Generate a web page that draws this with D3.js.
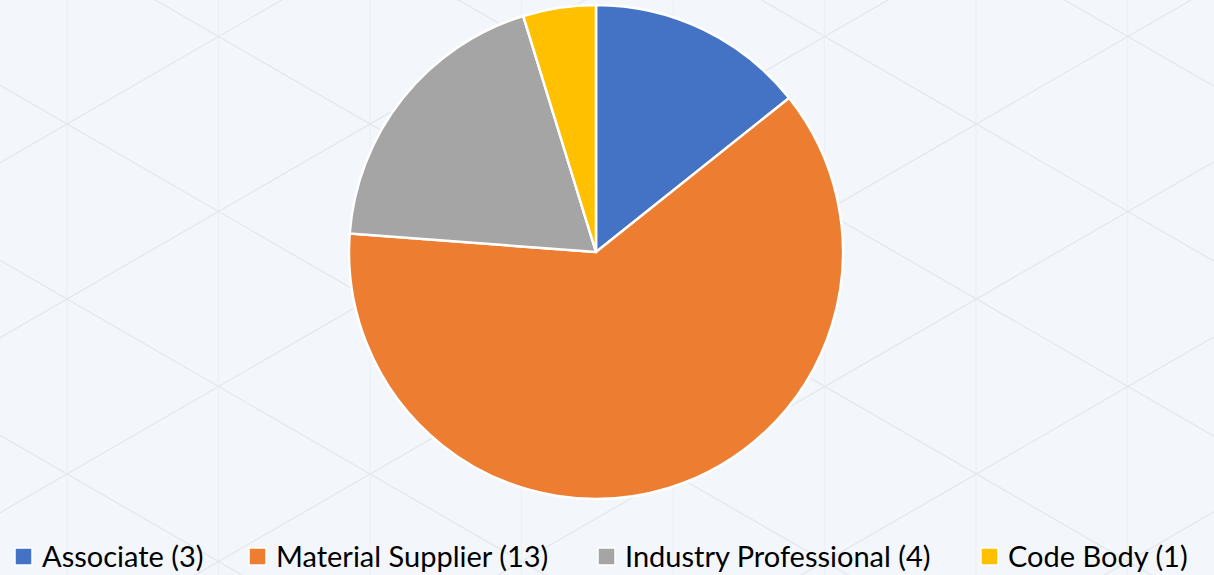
<!DOCTYPE html>
<html>
<head>
<meta charset="utf-8">
<script src="https://cdn.jsdelivr.net/npm/d3@7"></script>
<style>
  html, body { margin: 0; padding: 0; background: #f3f6fa; }
  svg { display: block; }
</style>
</head>
<body>
<svg id="chart" width="1214" height="575"></svg>
<script>
// data
const categories = ["Associate", "Material Supplier", "Industry Professional", "Code Body"];
const counts = [3, 13, 4, 1];
const colors = ["#4472C4", "#ED7D31", "#A5A5A5", "#FFC000"];

const svg = d3.select("#chart");
const width = +svg.attr("width");
const height = +svg.attr("height");

// background with faint triangle lattice
svg.append("rect").attr("width", width).attr("height", height).attr("fill", "#f3f6fa");
const bg = svg.append("g").attr("stroke", "#e4e7eb").attr("stroke-width", 1.2).attr("fill", "none");
const dx = 151.5, x0 = 67;
const slope = Math.tan(Math.PI / 6);
for (let k = -2; k < 10; k++) {
    const x = x0 + k * dx;
    bg.append("line").attr("x1", x).attr("x2", x).attr("y1", 0).attr("y2", height)
        .attr("stroke", "#edf0f4");
}
// diagonals through vertex (67,124)
const stepY = 175;
for (let m = -12; m < 14; m++) {
    const c1 = 124 - slope * x0 + m * stepY;
    bg.append("line").attr("x1", 0).attr("y1", c1).attr("x2", width).attr("y2", c1 + slope * width);
    const c2 = 124 + slope * x0 + m * stepY;
    bg.append("line").attr("x1", 0).attr("y1", c2).attr("x2", width).attr("y2", c2 - slope * width);
}

// pie
const data = categories.map((name, i) => ({ name: name, value: counts[i], color: colors[i] }));
const radius = 247;
const g = svg.append("g").attr("transform", "translate(596, 252)");

const pie = d3.pie().sort(null).value(d => d.value);
const arc = d3.arc().innerRadius(0).outerRadius(radius);

g.selectAll(".slice")
    .data(pie(data))
    .enter()
    .append("path")
    .attr("class", "slice")
    .attr("d", arc)
    .attr("fill", d => d.data.color)
    .attr("stroke", "#ffffff")
    .attr("stroke-width", 2.5)
    .attr("stroke-linejoin", "round");

// legend
const legendX = [15, 249, 598, 981];
const legend = svg.append("g");
const items = legend.selectAll(".item")
    .data(data)
    .enter()
    .append("g")
    .attr("class", "item")
    .attr("transform", (d, i) => `translate(${legendX[i]}, 547)`);

items.append("rect")
    .attr("width", 17).attr("height", 17).attr("y", 1)
    .attr("fill", d => d.color)
    .attr("stroke", "#ffffff").attr("stroke-width", 1.5);

items.append("text")
    .attr("x", 27)
    .attr("y", 20)
    .attr("font-family", "Lato, 'Liberation Sans', sans-serif")
    .attr("font-size", 29)
    .attr("fill", "#000")
    .text(d => `${d.name} (${d.value})`);
</script>
</body>
</html>
